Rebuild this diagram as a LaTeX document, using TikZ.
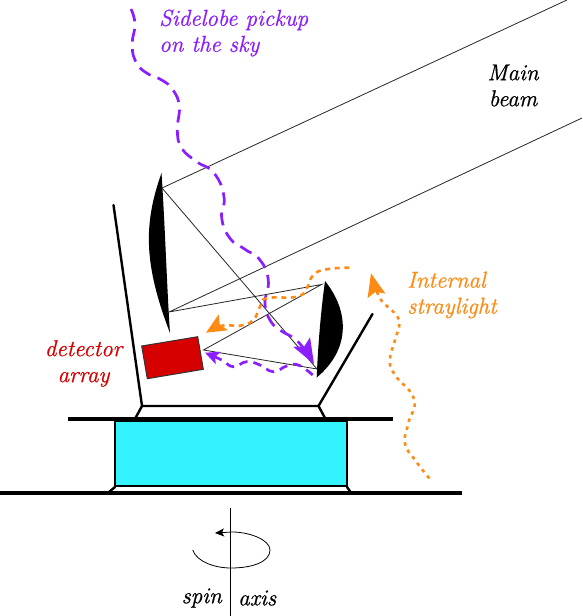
\documentclass[tikz,border=0pt]{standalone}
\usepackage{tikz}
\usepackage{fontspec}
\usetikzlibrary{arrows.meta}
\newfontfamily\labelfont{Latin Modern Roman}[ItalicFeatures={FakeBold=0.8}]
\definecolor{lobepurple}{HTML}{8A1EFF}
\definecolor{strayorange}{HTML}{FF8A14}
\definecolor{detectorred}{HTML}{D70000}
\definecolor{baffleblue}{HTML}{33F3FF}
\begin{document}
\begin{tikzpicture}[
  x=1pt, y=-1pt,
  label/.style={font=\labelfont\fontsize{23}{26}\selectfont\itshape, align=center, inner sep=0pt},
  mirror/.style={fill=black, draw=none},
  ray/.style={draw=black!85, line width=0.8pt},
  wall/.style={line width=2.4pt, line cap=round, line join=miter},
  deck/.style={line width=3.2pt},
  lobe/.style={draw=lobepurple, line width=2.7pt, dash pattern=on 13pt off 7.5pt},
  stray/.style={draw=strayorange, line width=2.6pt, dash pattern=on 3.5pt off 4.6pt}
]
\useasboundingbox (0,0) rectangle (582,616);
\coordinate (beamtop) at (567,0);
\coordinate (beamlow) at (582,118);
\coordinate (primtop) at (162,188);
\coordinate (primlow) at (169,312);
\coordinate (secnear) at (317,369);
\coordinate (secfar) at (321.5,284.5);
\coordinate (focus) at (203.5,350);
\coordinate (wallleft) at (113.5,205);
\coordinate (wallright) at (372.5,314);
\coordinate (cornerleft) at (142,406);
\coordinate (cornerright) at (318.5,406);
\coordinate (footleft) at (135.5,418);
\coordinate (footright) at (325,418);
\coordinate (lowleft) at (115,487);
\coordinate (lowright) at (347,487);
\coordinate (lowfootleft) at (109,492);
\coordinate (lowfootright) at (350.5,492);
\coordinate (axistop) at (230.7,508);
\coordinate (axisbot) at (230.7,616);
\coordinate (deckleft) at (68,419);
\coordinate (deckright) at (393,419);
\coordinate (floorleft) at (0,493);
\coordinate (floorright) at (462,493);
\draw[mirror] (161.5,173) .. controls (143,225) and (144,265) .. (170,333) .. controls (167,290) and (165,225) .. cycle;
\draw[mirror] (325,281) .. controls (350,312) and (350,350) .. (316.7,377.5) .. controls (318,345) and (321,310) .. cycle;
\node[fill=baffleblue, draw=black, line width=2pt, minimum width=232pt, minimum height=65pt, inner sep=0pt] (baffle) at (231,453.5) {};
\draw[ray] (beamtop) -- (primtop) -- (secnear) -- (focus) -- (secfar) -- (primlow) -- (beamlow);
\draw[wall] (wallleft) -- (cornerleft) -- (cornerright) -- (wallright);
\draw[wall] (cornerleft) -- (footleft);
\draw[wall] (cornerright) -- (footright);
\draw[wall] (lowleft) -- (lowfootleft);
\draw[wall] (lowright) -- (lowfootright);
\draw[deck] (deckleft) -- (deckright);
\draw[line width=5pt] (135.5,419.5) -- (325,419.5);
\draw[deck] (floorleft) -- (floorright);
\draw[fill=detectorred, draw=black!80, line width=1pt] (141.7,346) -- (197.7,336.7) -- (203.3,369.3) -- (147.3,378.7) -- cycle;
\draw[lobe, -{Stealth[length=25pt, width=19pt, inset=5pt]}] plot[smooth, tension=0.8] coordinates {(131,9) (135,24) (132.3,43) (135,60) (145,72) (161.7,80) (173,90) (179.3,106.7) (177.3,130) (181.7,148) (196.7,161.7) (214,173) (224,196.7) (221.7,218) (230,238.3) (245,249.3) (260,260) (268.3,280) (265,303.3) (270,320) (280,330) (298.3,342) (314,364)};
\draw[lobe, dash pattern=on 8.5pt off 6pt, -{Stealth[length=14pt, width=13pt, inset=3pt]}] plot[smooth, tension=0.8] coordinates {(312.7,375) (298.3,365) (286.7,366) (273.3,371.7) (260,365) (246.7,361.7) (233.3,366.7) (221.7,360) (205,352.7)};
\draw[stray, dash pattern=on 5pt off 4.6pt, -{Stealth[length=20pt, width=18pt, inset=4pt]}] plot[smooth, tension=0.8] coordinates {(349.3,267.7) (326.7,269.3) (313.3,275) (306.7,288.3) (296.7,296.7) (266.7,298.3) (260,306.7) (253.3,320) (240,325.7) (223,325.5) (206,332.7)};
\draw[stray, -{Stealth[length=23pt, width=18pt, inset=4pt]}] plot[smooth, tension=0.8] coordinates {(429.3,478.3) (415,460) (405,443.3) (408.3,423.3) (414,399) (395,375) (390,360) (395,340) (399.3,323.3) (393.3,311.7) (380,298.3) (371,273.3)};
\draw[line width=0.8pt] (axistop) -- (axisbot);
\draw[line width=0.8pt, -{Stealth[length=9pt, width=8pt, inset=2pt]}] (192.7,550) .. controls (197,562) and (215,568) .. (231,568) .. controls (252,568) and (270,562) .. (270,550) .. controls (270,540) and (250,532) .. (232,532) -- (215,533);
\node[label, align=left, text=lobepurple, anchor=west] (lobelabel) at (159,33) {Sidelobe pickup\\on the sky};
\node[label] (beamlabel) at (513,85.5) {Main\\beam};
\node[label, align=left, text=strayorange, anchor=west] (straylabel) at (407,295) {Internal\\straylight};
\node[label, text=detectorred] (detectorlabel) at (83.5,363.5) {detector\\array};
\node[label, anchor=east] (spinlabel) at (222,598) {spin};
\node[label, anchor=west] (axislabel) at (238,598) {axis};
\end{tikzpicture}
\end{document}
